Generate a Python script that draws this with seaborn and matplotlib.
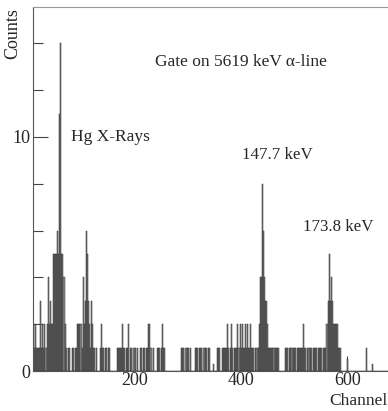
import matplotlib
matplotlib.use('Agg')
import matplotlib.pyplot as plt
import seaborn as sns
import pandas as pd
from matplotlib.ticker import MultipleLocator

# channels with a single count (2-channel bins)
ch_single = [10, 14, 16, 18, 20, 24, 28, 32,
             70, 74, 76, 82, 84, 88, 90,
             100, 116, 122, 124, 128,
             134, 138, 140, 144, 146, 150, 152,
             166, 168, 170, 172, 174, 178, 180, 184, 186, 192, 194, 198, 200, 204,
             210, 212, 216, 218, 222, 224, 230, 234,
             242, 244, 246, 250, 254, 256,
             288, 290, 292, 296, 298, 300, 304,
             314, 316, 318, 322, 324, 326, 330, 332, 334, 338, 340,
             356, 358, 360, 364, 366, 368, 370, 372, 376, 380, 384, 388, 390, 392, 396,
             400, 404, 406, 410, 414, 416, 420, 422, 424, 428, 430,
             432, 452, 454, 456, 458, 460, 462, 464, 466, 468, 470,
             484, 486, 488, 492, 494, 496, 498, 500, 502, 506, 508, 510, 512, 514, 516,
             520, 522, 526, 528, 530, 532, 536, 538, 540, 542, 546, 548, 550, 552, 556,
             558, 560, 584, 586, 588, 636]

# channels with more than one count
peak_ch = [8, 12, 22, 26, 30, 34, 36, 38, 40, 42, 44, 46, 48, 50, 52, 54, 56, 58, 60,
           62, 64, 66, 68,
           92, 94, 96, 98, 102, 104, 106, 108, 110, 112, 114, 118, 120,
           136, 176, 188, 226, 228, 252,
           374, 382, 394, 398, 402, 408, 412, 418,
           434, 436, 438, 440, 442, 444, 446, 448, 450,
           518,
           562, 564, 566, 568, 570, 572, 574, 576, 578, 580, 582,
           348, 600, 648]
peak_counts = [2, 2, 3, 2, 2, 2, 4, 2, 3, 2, 2, 5, 5, 5, 5, 6, 5, 11, 14,
               5, 5, 4, 2,
               2, 2, 2, 2, 4, 2, 3, 6, 5, 3, 2, 3, 2,
               2, 2, 2, 2, 2, 2,
               2, 2, 2, 2, 2, 2, 2, 2,
               2, 4, 4, 8, 6, 4, 3, 3, 2,
               2,
               2, 3, 5, 3, 4, 3, 2, 2, 2, 2, 2,
               0.3, 0.5, 0.3]

spectrum = {c: 1 for c in ch_single}
spectrum.update(dict(zip(peak_ch, peak_counts)))
df = pd.DataFrame({'channel': list(spectrum.keys()), 'counts': list(spectrum.values())})

sns.set_style('ticks')
plt.rcParams['font.family'] = ['Liberation Serif', 'DejaVu Serif']

fig = plt.figure(figsize=(3.88, 4.11), dpi=100)
ax = fig.add_axes([33 / 388, 40 / 411, 1 - 33 / 388, 364 / 411])

sns.histplot(data=df, x='channel', weights='counts', binwidth=2, binrange=(-1, 681),
             color='#8c8c8c', edgecolor='#2a2a2a', linewidth=0.35, alpha=1.0, ax=ax)

ax.set_xlim(7.5, 677)
ax.set_ylim(0, 15.55)
ax.set_xticks([200, 400, 600])
ax.yaxis.set_major_locator(MultipleLocator(10))
ax.yaxis.set_minor_locator(MultipleLocator(2))
ax.tick_params(axis='both', which='major', direction='in', length=11, width=0.8,
               color='#444444', labelsize=13, pad=2)
ax.tick_params(axis='x', which='major', pad=1)
ax.tick_params(axis='y', which='minor', direction='in', length=7, width=0.8, color='#444444')
ax.set_xlabel('')
ax.set_ylabel('')
for side in ['left', 'bottom']:
    ax.spines[side].set_color('#555555')
ax.spines['top'].set_color('#999999')
ax.spines['right'].set_visible(False)

fig.text(13 / 388, 1 - 34 / 411, 'Counts', rotation=90, ha='center', va='center', fontsize=13)
fig.text(1.0, 1 - 401 / 411, 'Channel', ha='right', va='center', fontsize=12.5)

ax.text(238, 13.2, 'Gate on 5619 keV α-line', ha='left', va='center', fontsize=12.5)
ax.text(79, 10.0, 'Hg X-Rays', ha='left', va='center', fontsize=12.5)
ax.text(402, 9.23, '147.7 keV', ha='left', va='center', fontsize=12.2)
ax.text(517, 6.15, '173.8 keV', ha='left', va='center', fontsize=12.2)

fig.savefig('out.png', dpi=100)
